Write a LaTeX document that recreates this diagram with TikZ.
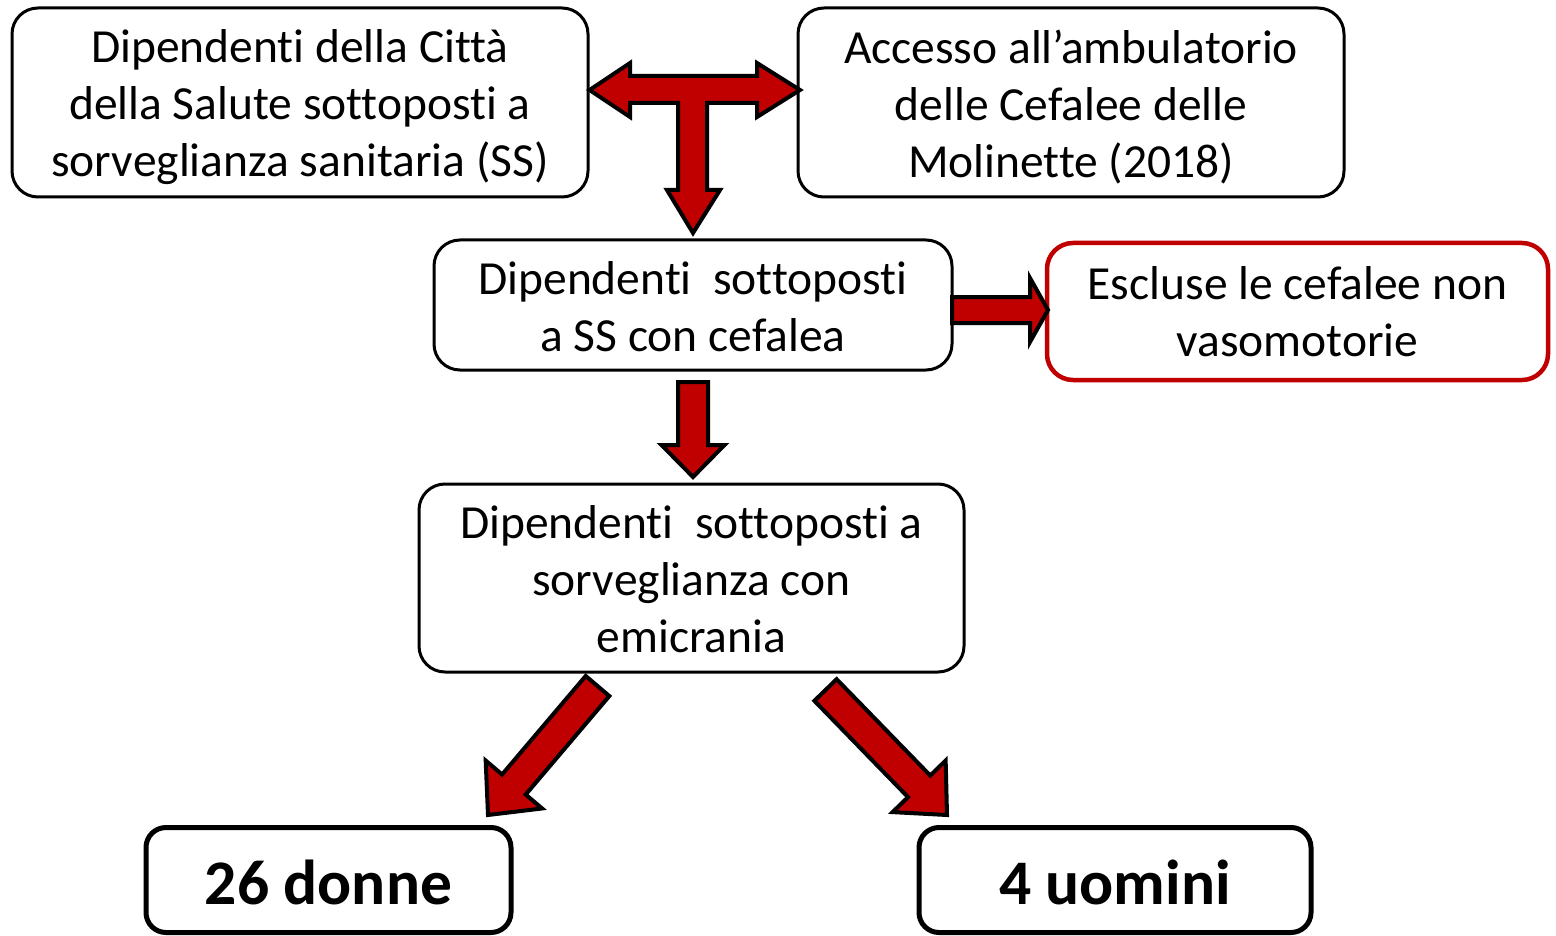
\documentclass[tikz,border=0pt]{standalone}
\usepackage{fontspec}
\setmainfont{Carlito}[RawFeature=-liga]
\usetikzlibrary{calc}
\definecolor{arrred}{HTML}{C00000}
\tikzset{
  box/.style={draw, line width=3pt, rounded corners=26pt, inner sep=0pt, fill=white},
  redbox/.style={box, draw=arrred, line width=4.5pt},
  txt/.style={align=center, inner sep=0pt, font=\fontsize{47.5}{57}\selectfont},
  resbox/.style={draw, line width=5pt, rounded corners=20pt, inner sep=0pt, fill=white},
  restxt/.style={inner sep=0pt, font=\fontsize{63.5}{70}\selectfont\bfseries},
  blk/.style={fill=arrred, draw=black, line width=4pt, line join=miter}
}
% start, end, half shaft width, half head width, head length
\newcommand\blockarrow[5]{%
  \coordinate (ba-base) at ($(#2)!#5!(#1)$);
  \draw[blk] ($(#1)!#3!90:(#2)$) -- ($(ba-base)!#3!90:(#2)$) -- ($(ba-base)!#4!90:(#2)$)
    -- (#2) -- ($(ba-base)!#4!-90:(#2)$) -- ($(ba-base)!#3!-90:(#2)$)
    -- ($(#1)!#3!-90:(#2)$) -- cycle;
}
\begin{document}
\begin{tikzpicture}[x=1pt,y=-1pt]
\useasboundingbox (0,0) rectangle (1556,936);
\node[box, minimum width=576pt, minimum height=189pt] (a) at (300,102.5) {};
\node[txt] (at) at ($(a)+(0,4.5)$)
  {Dipendenti della Città\\della Salute sottoposti a\\sorveglianza sanitaria (SS)};
\node[box, minimum width=546pt, minimum height=189pt] (b) at (1071,102.5) {};
\node[txt] (bt) at ($(b)+(0,4.5)$)
  {Accesso all’ambulatorio\\delle Cefalee delle\\Molinette (2018)};
\node[box, minimum width=518pt, minimum height=130pt] (c) at (693,305) {};
\node[txt] (ct) at ($(c)+(0,2)$)
  {Dipendenti\ \ sottoposti\\a SS con cefalea};
\node[redbox, minimum width=501pt, minimum height=137pt] (d) at (1297.5,311.5) {};
\node[txt] (dt) at (d)
  {Escluse le cefalee non\\vasomotorie};
\node[box, minimum width=545pt, minimum height=188pt] (e) at (691.5,578) {};
\node[txt] (et) at ($(e)+(0,1)$)
  {Dipendenti\ \ sottoposti a\\sorveglianza con\\emicrania};
\node[resbox, minimum width=365pt, minimum height=105pt] (f) at (328.5,880) {};
\node[restxt] (ft) at ($(f)+(0,2)$) {26 donne};
\node[resbox, minimum width=392pt, minimum height=105pt] (g) at (1115,880) {};
\node[restxt] (gt) at ($(g)+(0,2)$) {4 uomini};

% T arrow between a, b and down to c
\coordinate (tl) at (a.east |- 0,90);
\coordinate (tr) at (800,90);
\coordinate (tb) at (693,233);
\draw[blk] (tl) -- (630,63) -- (630,76) -- (757,76) -- (757,63) -- (tr) -- (757,117) -- (757,103)
  -- (707,103) -- (707,190) -- (720,190) -- (tb) -- (667,190) -- (678,190) -- (678,103)
  -- (630,103) -- (630,117) -- cycle;

% c -> d
\coordinate (cd1) at (952,310);
\coordinate (cd2) at (1048,310);
\blockarrow{cd1}{cd2}{13pt}{32pt}{18pt}
% c -> e
\coordinate (ce1) at (693,382);
\coordinate (ce2) at (693,477);
\blockarrow{ce1}{ce2}{15pt}{31.5pt}{32pt}
% e -> f
\coordinate (ef1) at (597.5,686);
\coordinate (ef2) at (488,815);
\blockarrow{ef1}{ef2}{15.5pt}{37pt}{40pt}
% e -> g
\coordinate (eg1) at (825.5,690);
\coordinate (eg2) at (947,815);
\blockarrow{eg1}{eg2}{15.5pt}{37pt}{40pt}
\end{tikzpicture}
\end{document}
